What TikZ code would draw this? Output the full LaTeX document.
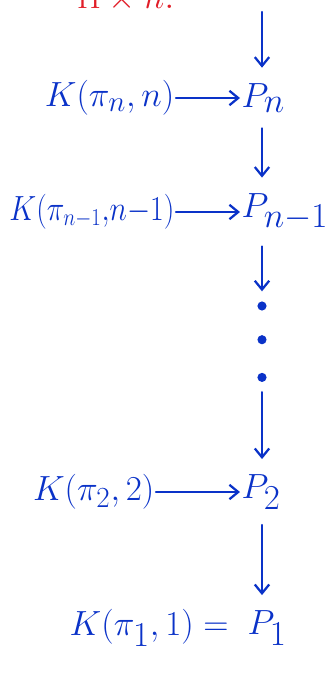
\documentclass[tikz,border=0pt]{standalone}
\usepackage{amsmath}
\usepackage{graphicx}
\usepackage{xcolor}
\usetikzlibrary{arrows.meta,positioning}

\definecolor{penblue}{RGB}{10,50,200}
\definecolor{penred}{RGB}{225,30,40}

\begin{document}
\begin{tikzpicture}[
    line cap=round,
    space/.style={
        text=penblue,
        inner sep=1pt,
        font=\fontsize{44}{50}\selectfont
    },
    fibre/.style={
        text=penblue,
        inner sep=1pt,
        font=\fontsize{30}{36}\selectfont
    },
    dot/.style={circle, fill=penblue, inner sep=0pt, minimum size=6.5pt},
    map/.style={-{Straight Barb[length=2.2mm,width=3.6mm]}, draw=penblue, line width=1.6pt},
    down/.style={map, shorten <=10pt, shorten >=10pt}
]
\useasboundingbox (0,0) rectangle (8.175,-16.975);

% cut-off note at the top
\begin{scope}
\clip (0,0) rectangle (8.175,-16.975);
\node[text=penred, font=\fontsize{30}{36}\selectfont, anchor=south west] (note) at (1.8,-0.4) {$\Pi\times n$:};
\end{scope}

\coordinate (top) at (6.55,-0.3);
\node[space, anchor=west] (pn) at (6.0,-2.45) {$P_n$};
\node[space, anchor=west] (pn1) at (6.0,-5.3) {$P_{n-1}$};
\node[space, anchor=west] (p2) at (6.0,-12.3) {$P_2$};
\node[space, anchor=west] (p1) at (6.15,-15.7) {$P_1$};

\node[fibre, left=1.6cm of pn] (kn) {$K(\pi_n,n)$};
\node[fibre, font=\fontsize{27}{32}\selectfont, left=1.6cm of pn1] (kn1) {\scalebox{0.85}[1]{$K(\pi_{n-1},\!n{-}1)$}};
\node[fibre, left=2.1cm of p2] (k2) {$K(\pi_2,2)$};
\node[fibre, font=\fontsize{33}{38}\selectfont, left=0.15cm of p1] (k1) {$K(\pi_1,1)={}$};

% the dots between P_{n-1} and P_2
\node[dot] (d1) at (6.55,-7.65) {};
\node[dot, below=0.6cm of d1] (d2) {};
\node[dot, below=0.7cm of d2] (d3) {};

\draw[map, shorten >=10pt] (top) -- (pn.north -| top);
\draw[down] (pn.south -| top) -- (pn1.north -| top);
\draw[down, shorten >=7pt] (pn1.south -| top) -- (d1);
\draw[down, shorten <=7pt] (d3) -- (p2.north -| top);
\draw[down] (p2.south -| top) -- (p1.north -| top);

\draw[map] (kn) -- (pn);
\draw[map] (kn1) -- (pn1);
\draw[map] (k2) -- (p2);

\end{tikzpicture}
\end{document}
